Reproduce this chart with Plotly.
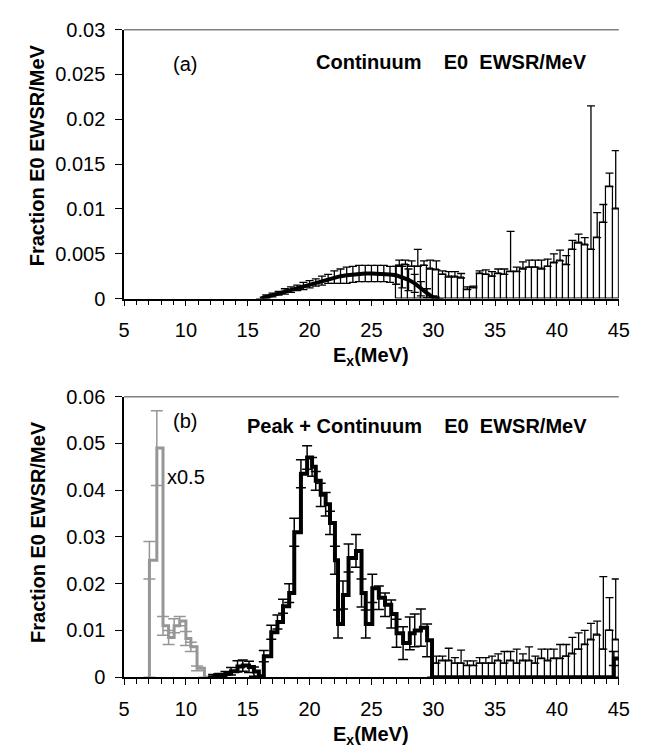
import plotly.graph_objects as go

# ---------------- Panel (a): Continuum E0 EWSR/MeV ----------------
a_curve_x = [16.0, 16.5, 17.0, 17.5, 18.0, 18.5, 19.0, 19.5, 20.0, 20.5, 21.0, 21.5, 22.0, 22.5,
             23.0, 23.5, 24.0, 24.5, 25.0, 25.5, 26.0, 26.5, 27.0, 27.5, 28.0, 28.5, 29.0, 29.5,
             30.0, 30.5]
a_curve_y = [0.0, 0.0002, 0.0004, 0.0006, 0.0008, 0.0010, 0.0012, 0.0014, 0.0016, 0.0018, 0.0020,
             0.0022, 0.0024, 0.0025, 0.0026, 0.0027, 0.0028, 0.0028, 0.0028, 0.0028, 0.0028, 0.0027,
             0.0026, 0.0024, 0.0021, 0.0017, 0.0011, 0.0006, 0.0001, 0.0]
a_curve_err = [0.0, 0.0002, 0.0002, 0.0002, 0.0003, 0.0003, 0.0003, 0.0004, 0.0004, 0.0004, 0.0005,
               0.0005, 0.0007, 0.0008, 0.0009, 0.0009, 0.0009, 0.0009, 0.0009, 0.0009, 0.0009, 0.0009,
               0.0010, 0.0012, 0.0012, 0.0010, 0.0008, 0.0005, 0.0002, 0.0]

a_bar_x = [27.25, 27.75, 28.25, 28.75, 29.25, 29.75, 30.25, 30.75, 31.25, 31.75, 32.25, 32.75,
           33.25, 33.75, 34.25, 34.75, 35.25, 35.75, 36.25, 36.75, 37.25, 37.75, 38.25, 38.75,
           39.25, 39.75, 40.25, 40.75, 41.25, 41.75, 42.25, 42.75, 43.25, 43.75, 44.25, 44.75]
a_bar_y = [0.0037, 0.0038, 0.0036, 0.0036, 0.0037, 0.0033, 0.0032, 0.0027, 0.0024, 0.0024, 0.0023,
           0.0010, 0.0012, 0.0028, 0.0027, 0.0025, 0.0028, 0.0027, 0.0030, 0.0030, 0.0033, 0.0035,
           0.0035, 0.0033, 0.0036, 0.0040, 0.0042, 0.0038, 0.0055, 0.0062, 0.0060, 0.0055, 0.0068,
           0.0085, 0.0125, 0.0100]
a_bar_err = [0.0006, 0.0005, 0.0006, 0.0019, 0.0005, 0.0010, 0.0010, 0.0004, 0.0006, 0.0006, 0.0005,
             0.0003, 0.0002, 0.0003, 0.0005, 0.0005, 0.0005, 0.0006, 0.0045, 0.0005, 0.0008, 0.0008,
             0.0008, 0.0010, 0.0008, 0.0010, 0.0012, 0.0010, 0.0010, 0.0010, 0.0008, 0.0160, 0.0028,
             0.0020, 0.0015, 0.0065]

# ---------------- Panel (b): Peak + Continuum E0 EWSR/MeV ----------------
b_gray_x = [7.05, 7.05, 7.65, 8.15, 8.6, 9.05, 9.5, 10.0, 10.4, 10.9, 11.5, 12.2]
b_gray_y = [0.0, 0.025, 0.049, 0.011, 0.0085, 0.011, 0.012, 0.0083, 0.0065, 0.0019, 0.0, 0.0]
b_gray_err = [0.0, 0.004, 0.008, 0.002, 0.0015, 0.0015, 0.001, 0.0015, 0.001, 0.0005, 0.0, 0.0]

b_black_x = [12.2, 12.7, 13.2, 13.65, 14.17, 14.6, 15.1, 15.5, 15.9, 16.3, 16.9, 17.4, 17.85,
             18.35, 18.76, 19.3, 19.8, 20.2, 20.5, 20.9, 21.3, 21.65, 22.05, 22.3, 22.7, 23.15,
             23.75, 24.2, 24.54, 25.07, 25.6, 26.1, 26.6, 27.03, 27.56, 28.1, 28.5, 29.0, 29.5,
             29.9, 44.6, 45.0]
b_black_y = [0.0004, 0.0005, 0.0008, 0.0013, 0.0023, 0.0025, 0.0022, 0.0012, 0.0002, 0.0045,
             0.0096, 0.0118, 0.0152, 0.0180, 0.0310, 0.0435, 0.0470, 0.0450, 0.0420, 0.0390,
             0.0370, 0.0330, 0.0250, 0.0114, 0.0176, 0.0255, 0.0270, 0.0180, 0.0114, 0.0190,
             0.0170, 0.0155, 0.0135, 0.0094, 0.0073, 0.0094, 0.0100, 0.0106, 0.0079, 0.0, 0.0040,
             0.0040]
b_black_err = [0.0002, 0.0003, 0.0004, 0.0008, 0.0012, 0.0012, 0.0012, 0.0010, 0.0, 0.0012,
               0.0015, 0.0015, 0.0015, 0.0020, 0.0030, 0.0030, 0.0025, 0.0020, 0.0020, 0.0025,
               0.0025, 0.0025, 0.0030, 0.0030, 0.0030, 0.0030, 0.0035, 0.0030, 0.0030, 0.0030,
               0.0025, 0.0025, 0.0030, 0.0030, 0.0035, 0.0035, 0.0035, 0.0040, 0.0035, 0.0, 0.0015,
               0.0]

b_bar_x = [30.25, 30.75, 31.25, 31.75, 32.25, 32.75, 33.25, 33.75, 34.25, 34.75, 35.25, 35.75,
           36.25, 36.75, 37.25, 37.75, 38.25, 38.75, 39.25, 39.75, 40.25, 40.75, 41.25, 41.75,
           42.25, 42.75, 43.25, 43.75, 44.25, 44.75]
b_bar_y = [0.0030, 0.0035, 0.0035, 0.0030, 0.0030, 0.0025, 0.0025, 0.0030, 0.0030, 0.0030, 0.0035,
           0.0030, 0.0035, 0.0030, 0.0035, 0.0035, 0.0030, 0.0040, 0.0035, 0.0040, 0.0040, 0.0045,
           0.0050, 0.0060, 0.0070, 0.0080, 0.0090, 0.0060, 0.0100, 0.0080]
b_bar_err = [0.0015, 0.0010, 0.0027, 0.0012, 0.0028, 0.0010, 0.0010, 0.0012, 0.0012, 0.0015, 0.0015,
             0.0025, 0.0020, 0.0030, 0.0015, 0.0030, 0.0015, 0.0020, 0.0025, 0.0020, 0.0030, 0.0025,
             0.0035, 0.0035, 0.0030, 0.0035, 0.0030, 0.0155, 0.0070, 0.0130]

X_TICKS = [5, 10, 15, 20, 25, 30, 35, 40, 45]

W, H = 652, 754
FONT = "Arial, 'Liberation Sans', sans-serif"
GRAY = "#969696"


def px(x):
    return x / W


def py(y):
    return 1 - y / H


fig = go.Figure()

# Panel (a)
fig.add_trace(go.Bar(
    x=a_bar_x, y=a_bar_y, width=0.5, xaxis="x", yaxis="y",
    marker=dict(color="white", line=dict(color="black", width=1.2)),
    error_y=dict(type="data", array=a_bar_err, arrayminus=[0] * len(a_bar_err),
                 symmetric=False, color="black", thickness=1.3, width=4),
    showlegend=False))
fig.add_trace(go.Scatter(
    x=a_curve_x, y=a_curve_y, mode="lines", xaxis="x", yaxis="y",
    line=dict(color="black", width=4),
    error_y=dict(type="data", array=a_curve_err, color="black", thickness=1.3, width=4),
    showlegend=False))

# Panel (b)
fig.add_trace(go.Bar(
    x=b_bar_x, y=b_bar_y, width=0.5, xaxis="x2", yaxis="y2",
    marker=dict(color="white", line=dict(color="black", width=1.2)),
    error_y=dict(type="data", array=b_bar_err, arrayminus=[0] * len(b_bar_err),
                 symmetric=False, color="black", thickness=1.3, width=4),
    showlegend=False))
fig.add_trace(go.Scatter(
    x=b_gray_x, y=b_gray_y, mode="lines", xaxis="x2", yaxis="y2",
    line=dict(color=GRAY, width=3, shape="hv"),
    error_y=dict(type="data", array=b_gray_err, color=GRAY, thickness=1.5, width=6),
    showlegend=False))
fig.add_trace(go.Scatter(
    x=b_black_x, y=b_black_y, mode="lines", xaxis="x2", yaxis="y2",
    line=dict(color="black", width=4, shape="hv"),
    error_y=dict(type="data", array=b_black_err, color="black", thickness=1.5, width=5),
    showlegend=False))

xa = dict(range=[5, 45], tickvals=X_TICKS, ticks="outside", ticklen=6, tickwidth=1.3,
          tickcolor="black", showline=True, linecolor="black", linewidth=1.5,
          showgrid=False, zeroline=False, tickfont=dict(family=FONT, size=20, color="black"),
          minor=dict(dtick=1, tick0=5, ticks="outside", ticklen=5, tickwidth=1.2,
                     tickcolor="black", showgrid=False),
          ticklabelstandoff=7)
ya = dict(ticks="outside", ticklen=7, tickwidth=1.3, tickcolor="black", showline=True,
          linecolor="black", linewidth=1.5, showgrid=False, zeroline=False,
          tickfont=dict(family=FONT, size=20, color="black"), ticklabelstandoff=6)

x0, x1 = px(113), px(621)
fig.update_layout(
    width=W, height=H, autosize=False,
    margin=dict(l=0, r=0, t=0, b=0),
    paper_bgcolor="white", plot_bgcolor="white",
    bargap=0,
    xaxis=dict(xa, domain=[x0, x1], anchor="y"),
    yaxis=dict(ya, domain=[py(288), py(11)], anchor="x", range=[0, 0.03], dtick=0.005, tick0=0),
    xaxis2=dict(xa, domain=[x0, x1], anchor="y2"),
    yaxis2=dict(ya, domain=[py(678), py(389)], anchor="x2", range=[0, 0.06], dtick=0.01, tick0=0),
    font=dict(family=FONT, color="black"),
)

# plot-area top borders
for ytop in (11, 389):
    fig.add_shape(type="line", xref="paper", yref="paper", x0=x0, x1=x1, y0=py(ytop), y1=py(ytop),
                  line=dict(color="#808080", width=1.5))

ann = []
bold = dict(family=FONT, size=20, color="black")
reg = dict(family=FONT, size=20, color="black")
# axis titles
for yc in (140, 528):
    ann.append(dict(x=px(24), y=py(yc), xref="paper", yref="paper", text="<b>Fraction E0 EWSR/MeV</b>",
                    textangle=-90, showarrow=False, font=bold, xanchor="center", yanchor="middle"))
for yc in (348, 738):
    ann.append(dict(x=px(367), y=py(yc), xref="paper", yref="paper", text="<b>E<sub>x</sub>(MeV)</b>",
                    showarrow=False, font=bold, xanchor="center", yanchor="middle"))
# in-plot texts
ann.append(dict(x=px(590), y=py(44), xref="paper", yref="paper",
                text="<b>Continuum\u00a0\u00a0\u00a0 E0\u00a0 EWSR/MeV</b>",
                showarrow=False, font=bold, xanchor="right", yanchor="middle"))
ann.append(dict(x=px(590), y=py(419), xref="paper", yref="paper",
                text="<b>Peak + Continuum\u00a0\u00a0\u00a0 E0\u00a0 EWSR/MeV</b>",
                showarrow=False, font=bold, xanchor="right", yanchor="middle"))
ann.append(dict(x=px(176), y=py(46), xref="paper", yref="paper", text="(a)",
                showarrow=False, font=reg, xanchor="center", yanchor="middle"))
ann.append(dict(x=px(176), y=py(414), xref="paper", yref="paper", text="(b)",
                showarrow=False, font=reg, xanchor="center", yanchor="middle"))
ann.append(dict(x=px(155), y=py(472), xref="paper", yref="paper", text="x0.5",
                showarrow=False, font=reg, xanchor="left", yanchor="middle"))
fig.update_layout(annotations=ann)

fig.write_html("out.html")
